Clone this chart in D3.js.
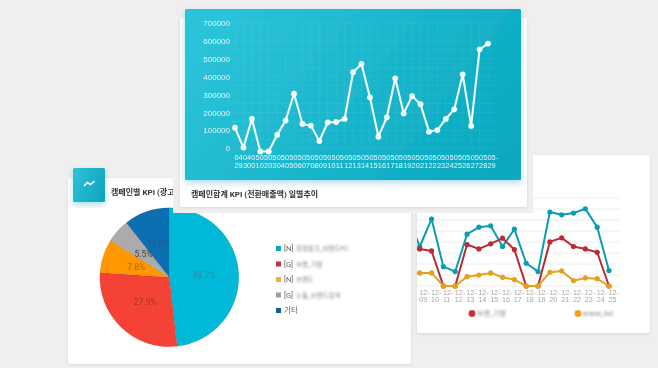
<!DOCTYPE html>
<html>
<head>
<meta charset="utf-8">
<script src="https://cdn.jsdelivr.net/npm/d3@7"></script>
<style>
html, body { margin: 0; padding: 0; background: #efefef; overflow: hidden; }
svg { display: block; filter: blur(0.35px); font-family: Roboto, "Noto Sans CJK KR", sans-serif; }
</style>
</head>
<body>
<svg id="chart" width="658" height="368"></svg>
<script>
'use strict';

const dailyDates = ['04-29', '04-30', '05-01', '05-02', '05-03', '05-04', '05-05', '05-06', '05-07', '05-08', '05-09',
    '05-10', '05-11', '05-12', '05-13', '05-14', '05-15', '05-16', '05-17', '05-18', '05-19', '05-20', '05-21', '05-22',
    '05-23', '05-24', '05-25', '05-26', '05-27', '05-28', '05-29'];
const dailyValues = [115000, 4000, 164000, -18000, -18000, 75000, 155000, 305000, 136000, 127000, 41000,
    145000, 147000, 164000, 425000, 471000, 285000, 65000, 173000, 391000, 195000, 292000, 246000, 93000,
    102000, 164000, 218000, 413000, 125000, 553000, 585000];
const dailyTicks = [0, 100000, 200000, 300000, 400000, 500000, 600000, 700000];

const pieNames = ['[N] 파워링크_브랜드PC', '[G] 브랜_기명', '[N] 브랜드', '[G] 누들_브랜드검색', '기타'];
const pieShares = [48.2, 27.9, 7.8, 5.5, 10.6];

const decDates = ['12-08', '12-09', '12-10', '12-11', '12-12', '12-13', '12-14', '12-15', '12-16', '12-17', '12-18',
    '12-19', '12-20', '12-21', '12-22', '12-23', '12-24', '12-25'];
const decTeal = [632, 359, 608, 176, 131, 471, 535, 547, 359, 517, 207, 131, 672, 647, 663, 702, 535, 140];
const decRed = [343, 337, 319, 0, 0, 377, 337, 383, 435, 331, 0, 0, 401, 438, 359, 337, 307, 0];
const decOrange = [119, 119, 119, 0, 0, 85, 100, 119, 79, 58, 0, 0, 125, 137, 49, 73, 67, 0];
const decTicks = [0, 100, 200, 300, 400, 500, 600, 700, 800];

const svg = d3.select('#chart');
const defs = svg.append('defs');

function addGradient(id, from, to) {
    const g = defs.append('linearGradient').attr('id', id)
        .attr('x1', '0%').attr('y1', '30%').attr('x2', '100%').attr('y2', '70%');
    g.append('stop').attr('offset', '0%').attr('stop-color', from);
    g.append('stop').attr('offset', '100%').attr('stop-color', to);
}
addGradient('tealFill', '#2cc3d9', '#08a9c0');
addGradient('iconFill', '#2cbfd6', '#0fa6bf');

function addShadow(id, dy, blur, color, alpha) {
    defs.append('filter').attr('id', id)
        .attr('x', '-10%').attr('y', '-10%').attr('width', '120%').attr('height', '125%')
        .append('feDropShadow')
        .attr('dx', 0).attr('dy', dy).attr('stdDeviation', blur)
        .attr('flood-color', color).attr('flood-opacity', alpha);
}
addShadow('cardShadow', 1, 1.5, '#000', 0.1);
addShadow('tealShadow', 3, 3, '#0a8fa5', 0.3);

defs.append('filter').attr('id', 'mosaic').append('feGaussianBlur').attr('stdDeviation', 0.8);
defs.append('clipPath').attr('id', 'rightClip').append('rect')
    .attr('x', 417).attr('y', 155).attr('width', 233).attr('height', 178);

function card(x, y, w, h, filter) {
    return svg.append('rect').attr('x', x).attr('y', y).attr('width', w).attr('height', h)
        .attr('rx', 2).attr('fill', '#fff').attr('filter', filter);
}

// two line tick labels, month on top and day below
function twoLineTicks(axisG, split, fill, size, y1, y2) {
    axisG.selectAll('.tick').each(function(d) {
        const parts = split(d);
        const tick = d3.select(this);
        tick.select('text').remove();
        parts.forEach((p, i) => {
            tick.append('text').attr('x', -1).attr('y', i === 0 ? y1 : y2)
                .attr('text-anchor', 'start').attr('fill', fill).style('font-size', size).text(p);
        });
    });
}

// right card, sits at the back
card(417, 155, 233, 178, 'url(#cardShadow)');

const decX = d3.scalePoint().domain(decDates).range([407.9, 609]);
const decY = d3.scaleLinear().domain([0, 800]).range([286, 198]);

const right = svg.append('g').attr('clip-path', 'url(#rightClip)');

right.append('g')
    .selectAll('line').data(decTicks).enter().append('line')
    .attr('x1', 417).attr('x2', 620)
    .attr('y1', d => decY(d)).attr('y2', d => decY(d))
    .attr('stroke', '#eeeeee').attr('stroke-width', 1);

const decAxis = right.append('g').attr('transform', 'translate(0,286)')
    .call(d3.axisBottom(decX).tickValues(decDates.slice(1)).tickSize(0));
decAxis.select('.domain').remove();
twoLineTicks(decAxis, d => { const p = d.split('-'); return [p[0] + '-', p[1]]; }, '#a6a6a6', '7.2px', 8.5, 16);

const decLine = d3.line().x((d, i) => decX(decDates[i])).y(d => decY(d));

[[decTeal, '#0a9db0'], [decRed, '#b82c36'], [decOrange, '#e6a11c']].forEach(s => {
    right.append('path').attr('d', decLine(s[0])).attr('fill', 'none')
        .attr('stroke', s[1]).attr('stroke-width', 2);
    right.selectAll(null).data(s[0]).enter().append('circle')
        .attr('cx', (d, i) => decX(decDates[i])).attr('cy', d => decY(d))
        .attr('r', 2.6).attr('fill', s[1]);
});

[[472, '#c9323a', '브랜_기명'], [578, '#eea61c', 'brand_list']].forEach(l => {
    svg.append('circle').attr('cx', l[0]).attr('cy', 313.5).attr('r', 3.4).attr('fill', l[1]);
    svg.append('text').attr('x', l[0] + 5).attr('y', 316).attr('fill', '#8a8a8a')
        .attr('font-size', 7).attr('filter', 'url(#mosaic)').text(l[2]);
});

// left card with the pie
card(68, 178, 343, 186, 'url(#cardShadow)');

const pieColors = ['#00b9d8', '#f44336', '#ff9800', '#ababab', '#0b6fb2'];
const labelColors = ['#2f8ba0', '#a83228', '#a86a10', '#444', '#1f5a8c'];
const legendColors = ['#12a5b8', '#c8323a', '#eeb030', '#9c9c9c', '#12608f'];

const pie = d3.pie().sort(null).value(d => d);
const radius = 69.5;
const arc = d3.arc().innerRadius(0).outerRadius(radius);
const pieG = svg.append('g').attr('transform', 'translate(169.3,277.3)');
const slices = pie(pieShares);

pieG.selectAll('path').data(slices).enter().append('path')
    .attr('d', arc)
    .attr('fill', (d, i) => pieColors[i])
    .attr('stroke', '#000').attr('stroke-opacity', 0.12).attr('stroke-width', 0.6);

pieG.selectAll('text').data(slices).enter().append('text')
    .attr('transform', d => 'translate(' + arc.centroid(d) + ')')
    .attr('text-anchor', 'middle').attr('dy', '0.35em')
    .attr('font-size', 8.5)
    .attr('fill', (d, i) => labelColors[i])
    .text((d, i) => pieShares[i].toFixed(1) + '%');

const legendY = d3.scalePoint().domain(pieNames).range([248.5, 310.5]);
const legend = svg.append('g').selectAll('g').data(pieNames).enter().append('g')
    .attr('transform', d => 'translate(276,' + legendY(d) + ')');
legend.append('rect').attr('x', 0).attr('y', -2.5).attr('width', 5).attr('height', 5)
    .attr('fill', (d, i) => legendColors[i]);
legend.each(function(d) {
    const g = d3.select(this);
    const m = d.match(/^(\[.\]) (.*)$/);
    if (m) {
        g.append('text').attr('x', 8).attr('y', 2.8).attr('font-size', 7.5).attr('fill', '#666').text(m[1]);
        g.append('text').attr('x', 20).attr('y', 2.8).attr('font-size', 6.4).attr('fill', '#8a8a8a')
            .attr('filter', 'url(#mosaic)').text(m[2]);
    } else {
        g.append('text').attr('x', 8).attr('y', 2.8).attr('font-size', 7.5).attr('fill', '#666').text(d);
    }
});

svg.append('text').attr('x', 111).attr('y', 194.5).attr('font-size', 8).attr('font-weight', 700)
    .attr('fill', '#333').text('캠페인별 KPI (광고');

// icon tile
svg.append('rect').attr('x', 73).attr('y', 168).attr('width', 32).attr('height', 34).attr('rx', 1.5)
    .attr('fill', 'url(#iconFill)').attr('filter', 'url(#tealShadow)');
const iconLine = d3.line();
svg.append('path').attr('d', iconLine([[84, 186], [87.5, 182.5], [90.5, 184.5], [94.5, 181]]))
    .attr('fill', 'none').attr('stroke', '#fff').attr('stroke-width', 1.6);

// top card: grey margin, white card, teal chart
svg.append('rect').attr('x', 173).attr('y', 0).attr('width', 360).attr('height', 213).attr('fill', '#efefef');
card(180, 18, 347, 189, 'url(#cardShadow)');
svg.append('rect').attr('x', 185).attr('y', 9).attr('width', 336).attr('height', 171).attr('rx', 1.5)
    .attr('fill', 'url(#tealFill)').attr('filter', 'url(#tealShadow)');

const dayX = d3.scalePoint().domain(dailyDates).range([235, 488]);
const dayY = d3.scaleLinear().domain([0, 700000]).range([148.3, 23]);

const gridTicks = d3.range(0, 700001, 50000);
const grid = svg.append('g').attr('stroke', '#fff').attr('stroke-opacity', 0.06);
grid.selectAll('line.h').data(gridTicks).enter().append('line').attr('class', 'h')
    .attr('x1', 231).attr('x2', 497).attr('y1', d => dayY(d)).attr('y2', d => dayY(d));
grid.selectAll('line.v').data(dailyDates).enter().append('line').attr('class', 'v')
    .attr('x1', d => dayX(d)).attr('x2', d => dayX(d)).attr('y1', 23).attr('y2', 148);

const yAxis = svg.append('g').attr('transform', 'translate(230,0)')
    .call(d3.axisLeft(dayY).tickValues(dailyTicks).tickSize(0).tickPadding(0).tickFormat(d3.format('d')));
yAxis.select('.domain').remove();
yAxis.selectAll('text').attr('fill', '#dff8fb').style('font-size', '8px');

const xAxis = svg.append('g').attr('transform', 'translate(0,148)')
    .call(d3.axisBottom(dayX).tickSize(0));
xAxis.select('.domain').remove();
twoLineTicks(xAxis, d => {
    const p = d.split('-');
    return [d === dailyDates[dailyDates.length - 1] ? p[0] + '-' : p[0], p[1]];
}, '#e8fafc', '7.4px', 11.5, 19.5);

const dayLine = d3.line().x((d, i) => dayX(dailyDates[i])).y(d => dayY(d));
svg.append('path').attr('d', dayLine(dailyValues)).attr('fill', 'none')
    .attr('stroke', '#fff').attr('stroke-width', 2.1).attr('stroke-opacity', 0.95);
svg.selectAll(null).data(dailyValues).enter().append('circle')
    .attr('cx', (d, i) => dayX(dailyDates[i])).attr('cy', d => dayY(d))
    .attr('r', 2.9).attr('fill', '#f4fdfe');

svg.append('text').attr('x', 191).attr('y', 196.5).attr('font-size', 8).attr('font-weight', 700)
    .attr('fill', '#333').text('캠페인합계 KPI (전환매출액) 일별추이');
</script>
</body>
</html>
